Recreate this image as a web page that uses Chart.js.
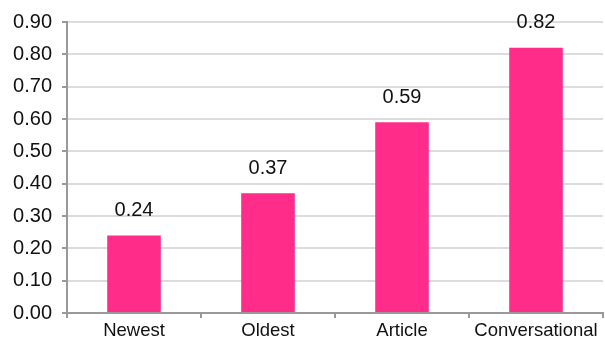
<!DOCTYPE html>
<html>
<head>
<meta charset="utf-8">
<script src="https://cdn.jsdelivr.net/npm/chart.js@4"></script>
<style>
    html, body { margin: 0; padding: 0; background: #fff; }
    #myChart { display: block; }
</style>
</head>
<body>
<canvas id="myChart" width="605" height="341"></canvas>
<script>
const categories = ['Newest', 'Oldest', 'Article', 'Conversational'];
const scores = [0.24, 0.37, 0.59, 0.82];
const yTicks = [0, 0.1, 0.2, 0.3, 0.4, 0.5, 0.6, 0.7, 0.8, 0.9];

const fontFamily = '"Liberation Sans", Arial, sans-serif';

// draws the value above each bar
const valueLabels = {
    id: 'valueLabels',
    afterDatasetsDraw(chart) {
        const ctx = chart.ctx;
        const meta = chart.getDatasetMeta(0);
        ctx.save();
        ctx.font = '20px ' + fontFamily;
        ctx.fillStyle = '#111';
        ctx.textAlign = 'center';
        ctx.textBaseline = 'middle';
        meta.data.forEach((bar, i) => {
            ctx.fillText(scores[i].toFixed(2), bar.x, bar.y - 25);
        });
        ctx.restore();
    }
};

const ctx = document.getElementById('myChart').getContext('2d');
const myChart = new Chart(ctx, {
    type: 'bar',
    data: {
        labels: categories,
        datasets: [{
            data: scores,
            backgroundColor: '#ff2d89',
            categoryPercentage: 1,
            barPercentage: 0.4
        }]
    },
    options: {
        responsive: false,
        animation: false,
        layout: { padding: { top: 21, right: 2, left: 0, bottom: 0 } },
        plugins: {
            legend: { display: false },
            tooltip: { enabled: false }
        },
        scales: {
            x: {
                afterFit: s => { s.height = 28; },
                border: { color: '#999', width: 2 },
                grid: { drawOnChartArea: false, tickLength: 5, color: '#999', lineWidth: 2 },
                ticks: {
                    color: '#111',
                    padding: 2,
                    font: { size: 18.5, family: fontFamily }
                }
            },
            y: {
                min: 0,
                max: 0.9,
                afterFit: s => { s.width = 67; },
                afterBuildTicks: s => { s.ticks = yTicks.map(v => ({ value: v })); },
                border: { color: '#999', width: 2 },
                grid: { color: '#dcdcdc', lineWidth: 2, tickLength: 5, tickColor: '#999' },
                ticks: {
                    color: '#111',
                    padding: 10,
                    font: { size: 20, family: fontFamily },
                    callback: v => v.toFixed(2)
                }
            }
        }
    },
    plugins: [valueLabels]
});
</script>
</body>
</html>
